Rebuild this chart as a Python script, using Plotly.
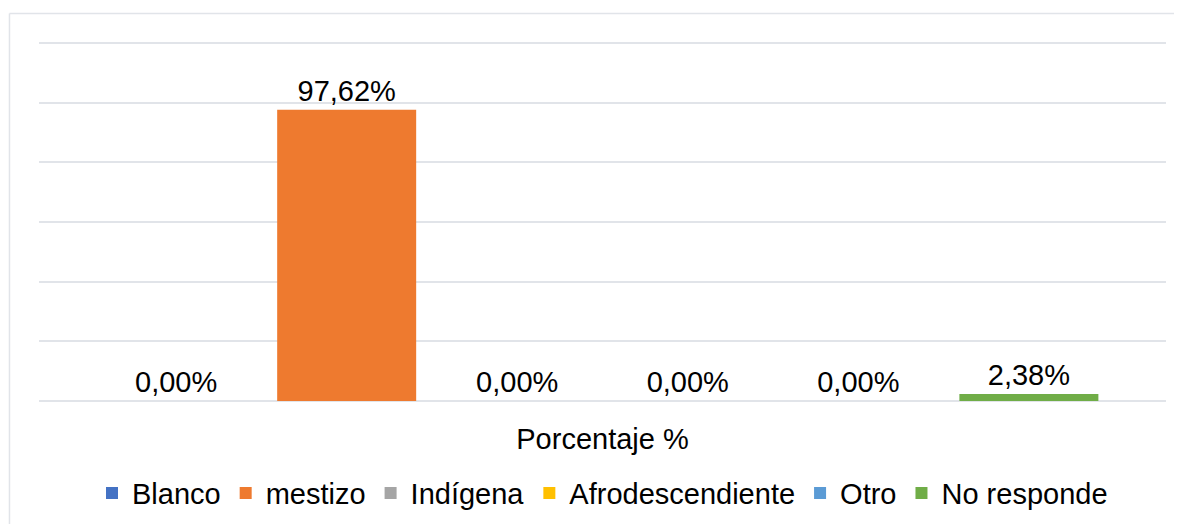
import plotly.graph_objects as go

category = ["Porcentaje %"]
series_names = ["Blanco", "mestizo", "Indígena", "Afrodescendiente", "Otro", "No responde"]
series_values = [0.00, 97.62, 0.00, 0.00, 0.00, 2.38]
series_colors = ["#4472C4", "#EE7A2F", "#A5A5A5", "#FFC000", "#5B9BD5", "#70AD47"]

FONT = 29

fig = go.Figure()
for name, val, col in zip(series_names, series_values, series_colors):
    fig.add_trace(go.Bar(
        x=category, y=[val], name=name,
        marker=dict(color=col, line=dict(width=0)),
        texttemplate="%{y:.2f}%", textposition="outside",
        textfont=dict(size=FONT, color="#000000"),
        constraintext="none",
        cliponaxis=False,
    ))

fig.update_layout(
    width=1174, height=516,
    margin=dict(l=31, r=16, t=32, b=123, pad=0, autoexpand=False),
    paper_bgcolor="white", plot_bgcolor="white",
    font=dict(family="Liberation Sans, Arial, sans-serif", size=FONT, color="#000000"),
    separators=",.",
    barmode="group", bargap=0.092, bargroupgap=0.185,
    showlegend=True,
    legend=dict(orientation="h", x=0.5, xanchor="center", y=-0.255, yanchor="middle",
                font=dict(size=FONT), itemwidth=30, tracegroupgap=0),
    xaxis=dict(showgrid=False, showline=False, ticks="", tickfont=dict(size=FONT),
               ticklabelstandoff=18, automargin=False),
    yaxis=dict(range=[0, 121], dtick=20, showgrid=True, gridcolor="#E1E4E9",
               gridwidth=1.5, showticklabels=False, zeroline=True, automargin=False,
               zerolinecolor="#E1E4E9", zerolinewidth=1.5, fixedrange=True),
    shapes=[
        dict(type="line", xref="paper", yref="paper", x0=-0.0262, x1=1.02,
             y0=1.0734, y1=1.0734, line=dict(color="#E1E4E9", width=1.5)),
        dict(type="line", xref="paper", yref="paper", x0=-0.0262, x1=-0.0262,
             y0=1.0734, y1=-0.36, line=dict(color="#E1E4E9", width=1.5)),
    ],
)

fig.write_html("out.html")
